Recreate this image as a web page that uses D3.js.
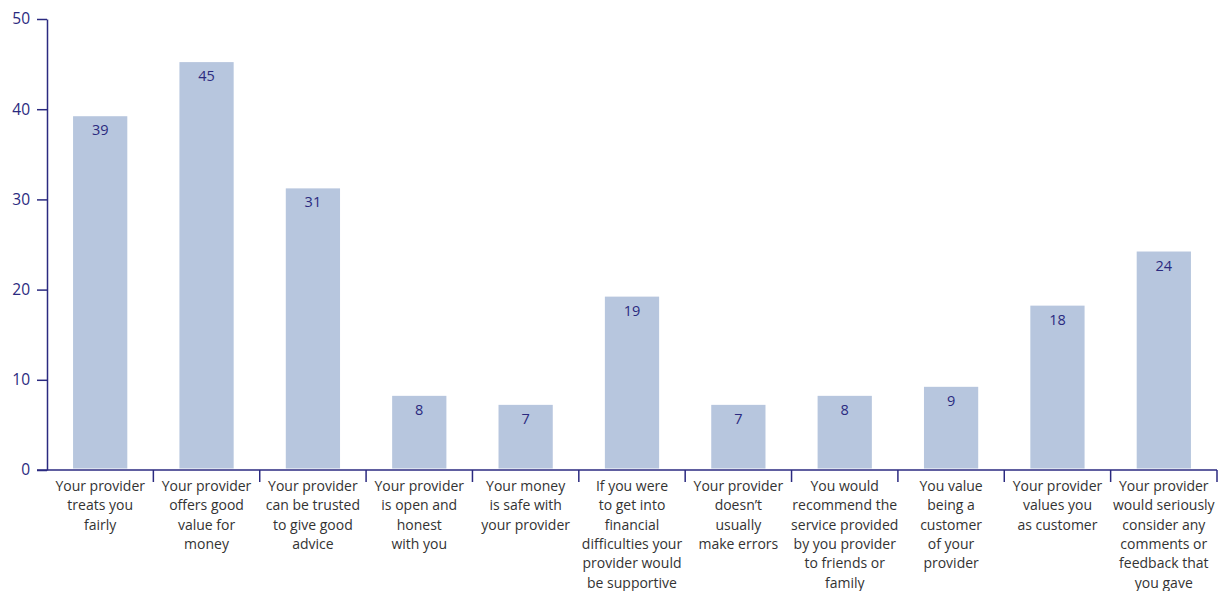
<!DOCTYPE html>
<html><head><meta charset="utf-8">
<script src="https://cdn.jsdelivr.net/npm/d3@7/dist/d3.min.js"></script>
<style>body{margin:0;background:#fff}svg{display:block}</style>
</head><body>
<svg id="c" width="1219" height="591"></svg>
<script>
const categories = [
  ["Your provider","treats you","fairly"],
  ["Your provider","offers good","value for","money"],
  ["Your provider","can be trusted","to give good","advice"],
  ["Your provider","is open and","honest","with you"],
  ["Your money","is safe with","your provider"],
  ["If you were","to get into","financial","difficulties your","provider would","be supportive"],
  ["Your provider","doesn\u2019t","usually","make errors"],
  ["You would","recommend the","service provided","by you provider","to friends or","family"],
  ["You value","being a","customer","of your","provider"],
  ["Your provider","values you","as customer"],
  ["Your provider","would seriously","consider any","comments or","feedback that","you gave"]
];
const values = [39, 45, 31, 8, 7, 19, 7, 8, 9, 18, 24];
const yTicks = [0, 10, 20, 30, 40, 50];

(function(){
const svg = d3.select("#c");
const navy = "#2b2a80";
const mLeft = 47, mRight = 1217, mTop = 19, mBottom = 470;
const font = "'Open Sans', 'Noto Sans', sans-serif";

const x = d3.scaleBand().domain(d3.range(categories.length)).range([mLeft, mRight]).paddingInner(0).paddingOuter(0);
const y = d3.scaleLinear().domain([0, 50]).range([mBottom, mTop]);
const barW = x.bandwidth() * 0.51;

// bars
svg.append("g").selectAll("rect").data(values).join("rect")
  .attr("x", (d,i) => x(i) + (x.bandwidth() - barW)/2)
  .attr("y", d => y(d) - 2)
  .attr("width", barW)
  .attr("height", d => y(0) - y(d) + 0.5)
  .attr("fill", "#b7c6de");

// value labels
svg.append("g").selectAll("text").data(values).join("text")
  .attr("x", (d,i) => x(i) + x.bandwidth()/2)
  .attr("y", d => y(d) + 17)
  .attr("text-anchor", "middle")
  .attr("font-family", font).attr("font-size", 14.5).attr("fill", navy)
  .text(d => d);

// y axis
const ya = svg.append("g").attr("transform", `translate(${mLeft},0)`)
  .call(d3.axisLeft(y).tickValues(yTicks).tickSize(10).tickPadding(7).tickSizeOuter(0));
ya.select(".domain").attr("stroke", navy).attr("stroke-width", 1.5);
ya.selectAll(".tick line").attr("stroke", navy).attr("stroke-width", 1.5);
ya.selectAll(".tick text").attr("font-family", font).attr("font-size", 15.5).attr("fill", navy);

// x axis line
svg.append("line").attr("x1", mLeft - 10).attr("x2", mRight).attr("y1", mBottom).attr("y2", mBottom)
  .attr("stroke", navy).attr("stroke-width", 1.5);
// category separators
const seps = d3.range(1, categories.length + 1).map(i => i < categories.length ? x(i) : mRight);
svg.append("g").selectAll("line").data(seps).join("line")
  .attr("x1", d => d).attr("x2", d => d).attr("y1", mBottom).attr("y2", mBottom + 12)
  .attr("stroke", navy).attr("stroke-width", 1.5);

// category labels
const cl = svg.append("g").selectAll("text").data(categories).join("text")
  .attr("x", (d,i) => x(i) + x.bandwidth()/2)
  .attr("y", 491)
  .attr("text-anchor", "middle")
  .attr("font-family", font).attr("font-size", 14).attr("fill", "#333");
cl.selectAll("tspan").data(d => d).join("tspan")
  .attr("x", function(){ return this.parentNode.getAttribute("x"); })
  .attr("dy", (d,j) => j === 0 ? 0 : 19.3)
  .text(d => d);
})();
</script>
</body></html>
